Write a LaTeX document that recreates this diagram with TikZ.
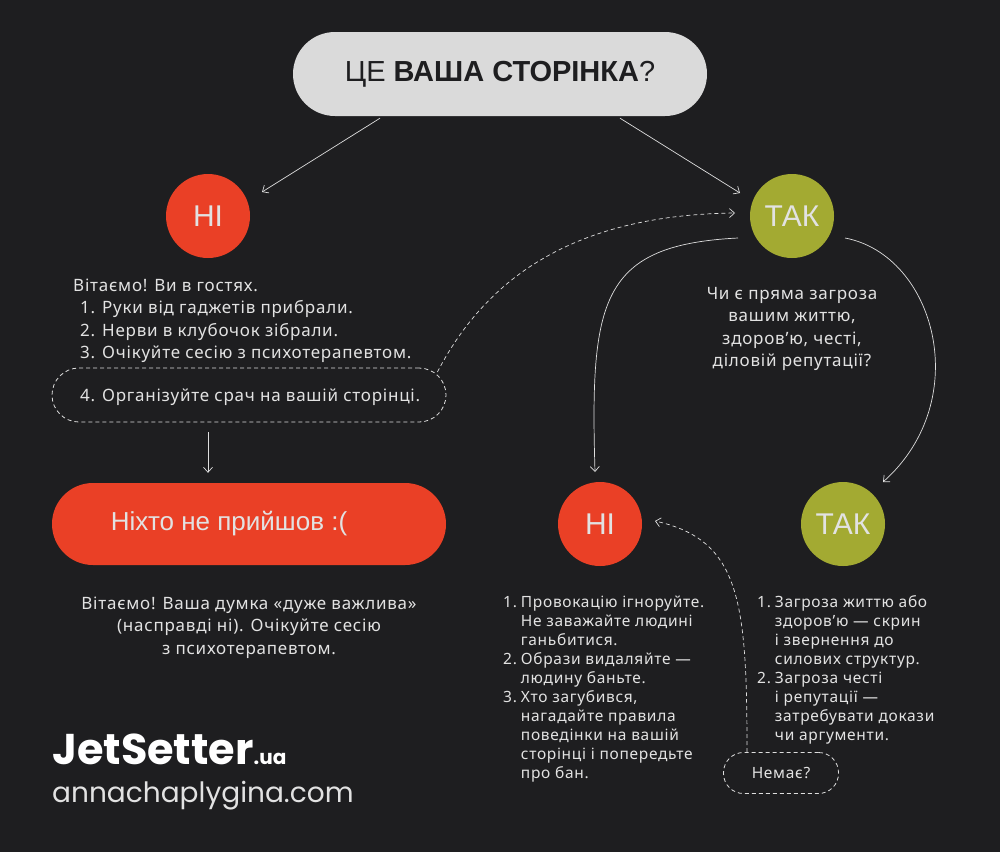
\documentclass[tikz,border=0pt]{standalone}
\usepackage{fontspec}
\setmainfont{Noto Sans}[LetterSpace=4.5]
\newfontfamily\ttlfont{Liberation Sans}
\newfontfamily\lgfont{Poppins}
\usetikzlibrary{arrows.meta,calc}
\definecolor{bgc}{RGB}{30,30,32}
\definecolor{redc}{RGB}{234,64,38}
\definecolor{greenc}{RGB}{163,170,50}
\definecolor{pillc}{RGB}{218,218,218}
\definecolor{txtc}{RGB}{226,226,226}
\definecolor{linec}{RGB}{222,222,222}
\newcommand{\bdyfnt}{\fontsize{17}{22.5}\selectfont}
\newcommand{\smlfnt}{\fontsize{15.5}{19}\selectfont}
\begin{document}
\begin{tikzpicture}[x=1pt,y=-1pt,
  pillbox/.style={rectangle, rounded corners=#1, inner sep=0pt},
  circnode/.style={circle, minimum size=84pt, inner sep=0pt, text=txtc, font={\ttlfont\fontsize{30}{32}\selectfont}},
  arr/.style={draw=linec, line width=0.7pt, -{Straight Barb[length=5pt,width=9pt]}},
  dsh/.style={arr, dash pattern=on 4pt off 3pt},
  dpill/.style={draw=linec, line width=0.8pt, dash pattern=on 4pt off 3pt, rectangle, inner sep=0pt},
  bodytxt/.style={text=txtc, inner sep=0pt, font=\bdyfnt},
  smalltxt/.style={text=txtc, inner sep=0pt, font=\smlfnt}]
\fill[bgc] (0,0) rectangle (1000,852);
\useasboundingbox (0,0) rectangle (1000,852);

% title
\node[pillbox=42pt, fill=pillc, minimum width=414pt, minimum height=84pt,
      text=bgc, font={\ttlfont\fontsize{29}{30}\selectfont}] (title) at (500,74)
      {ЦЕ \textbf{ВАША СТОРІНКА}?};

% circles
\node[circnode, fill=redc] (nl) at (208,216) {НІ};
\node[circnode, fill=greenc] (ty) at (792,216) {ТАК};
\node[circnode, fill=redc] (nb) at (600,524) {НІ};
\node[circnode, fill=greenc] (tb) at (843,524) {ТАК};

% left text
\node[bodytxt, anchor=base west] (ltxt) at (73,291)
  {\begin{tabular}[t]{@{}l@{}}Вітаємо! Ви в гостях.\\
   \hspace*{7pt}1. Руки від гаджетів прибрали.\\
   \hspace*{7pt}2. Нерви в клубочок зібрали.\\
   \hspace*{7pt}3. Очікуйте сесію з психотерапевтом.\end{tabular}};

\node[dpill, rounded corners=27pt, minimum width=394pt, minimum height=54pt] (p4) at (249,395) {};
\node[bodytxt, anchor=base west] (p4t) at (80,401) {4. Організуйте срач на вашій сторінці.};

% red pill
\node[pillbox=41pt, fill=redc, minimum width=394pt, minimum height=82pt] (nob) at (249,524) {};
\node[text=txtc, inner sep=0pt, font={\ttlfont\fontsize{26}{28}\selectfont}] (nobt) at (229,524)
      {Ніхто не прийшов :(};

\node[bodytxt, anchor=base] (btxt) at (249,609)
  {\begin{tabular}[t]{@{}c@{}}Вітаємо! Ваша думка «дуже важлива»\\
   (насправді ні). Очікуйте сесію\\
   з психотерапевтом.\end{tabular}};

% question
\node[bodytxt, anchor=base] (qtxt) at (792,299)
  {\begin{tabular}[t]{@{}c@{}}Чи є пряма загроза\\ вашим життю,\\ здоров’ю, честі,\\ діловій репутації?\end{tabular}};

% lists
\node[smalltxt, anchor=base west] (lst1) at (503,607)
  {\begin{tabular}[t]{@{}l@{\hspace{4pt}}l@{}}
   1. & Провокацію ігноруйте.\\
      & Не заважайте людині\\
      & ганьбитися.\\
   2. & Образи видаляйте —\\
      & людину баньте.\\
   3. & Хто загубився,\\
      & нагадайте правила\\
      & поведінки на вашій\\
      & сторінці і попередьте\\
      & про бан.\end{tabular}};

\node[smalltxt, anchor=base west] (lst2) at (757,607)
  {\begin{tabular}[t]{@{}l@{\hspace{4pt}}l@{}}
   1. & Загроза життю або\\
      & здоров’ю — скрин\\
      & і звернення до\\
      & силових структур.\\
   2. & Загроза честі\\
      & і репутації —\\
      & затребувати докази\\
      & чи аргументи.\end{tabular}};

\node[dpill, rounded corners=20pt, minimum width=115pt, minimum height=41pt] (nem) at (781,773) {};
\node[smalltxt, anchor=center] (nemt) at (781,773) {Немає?};

% logo
\node[text=white, inner sep=0pt, anchor=base west, font={\lgfont\bfseries\fontsize{43}{45}\selectfont}] (logo) at (52,764)
  {JetSetter{\fontsize{20}{22}\selectfont.ua}};
\node[text=txtc, inner sep=0pt, anchor=base west, font={\lgfont\fontsize{28}{30}\selectfont}] (site) at (52,802)
  {annachaplygina.com};

% connectors
\draw[arr] ($(title.south)+(-120,2)$) -- ($(nl)+(54,-24)$);
\draw[arr] ($(title.south)+(120,2)$) -- ($(ty)+(-52,-23)$);
\draw[dsh] ($(p4.east)+(-9,-23)$) .. controls (480,290) and (560,215) .. ($(ty)+(-57,-3)$);
\draw[arr] ($(ty)+(-54,22)$) .. controls (600,245) and (590,300) .. ($(nb)+(-5,-52)$);
\draw[arr] ($(ty)+(53,22)$) .. controls (935,255) and (975,400) .. ($(tb)+(40,-42)$);
\draw[dsh] ($(nem.north)+(-34,0)$) .. controls (747,600) and (740,540) .. ($(nb)+(55,-3)$);
\draw[arr] ($(p4.south)+(-41,10)$) -- ($(nob.north)+(-41,-10)$);
\end{tikzpicture}
\end{document}
